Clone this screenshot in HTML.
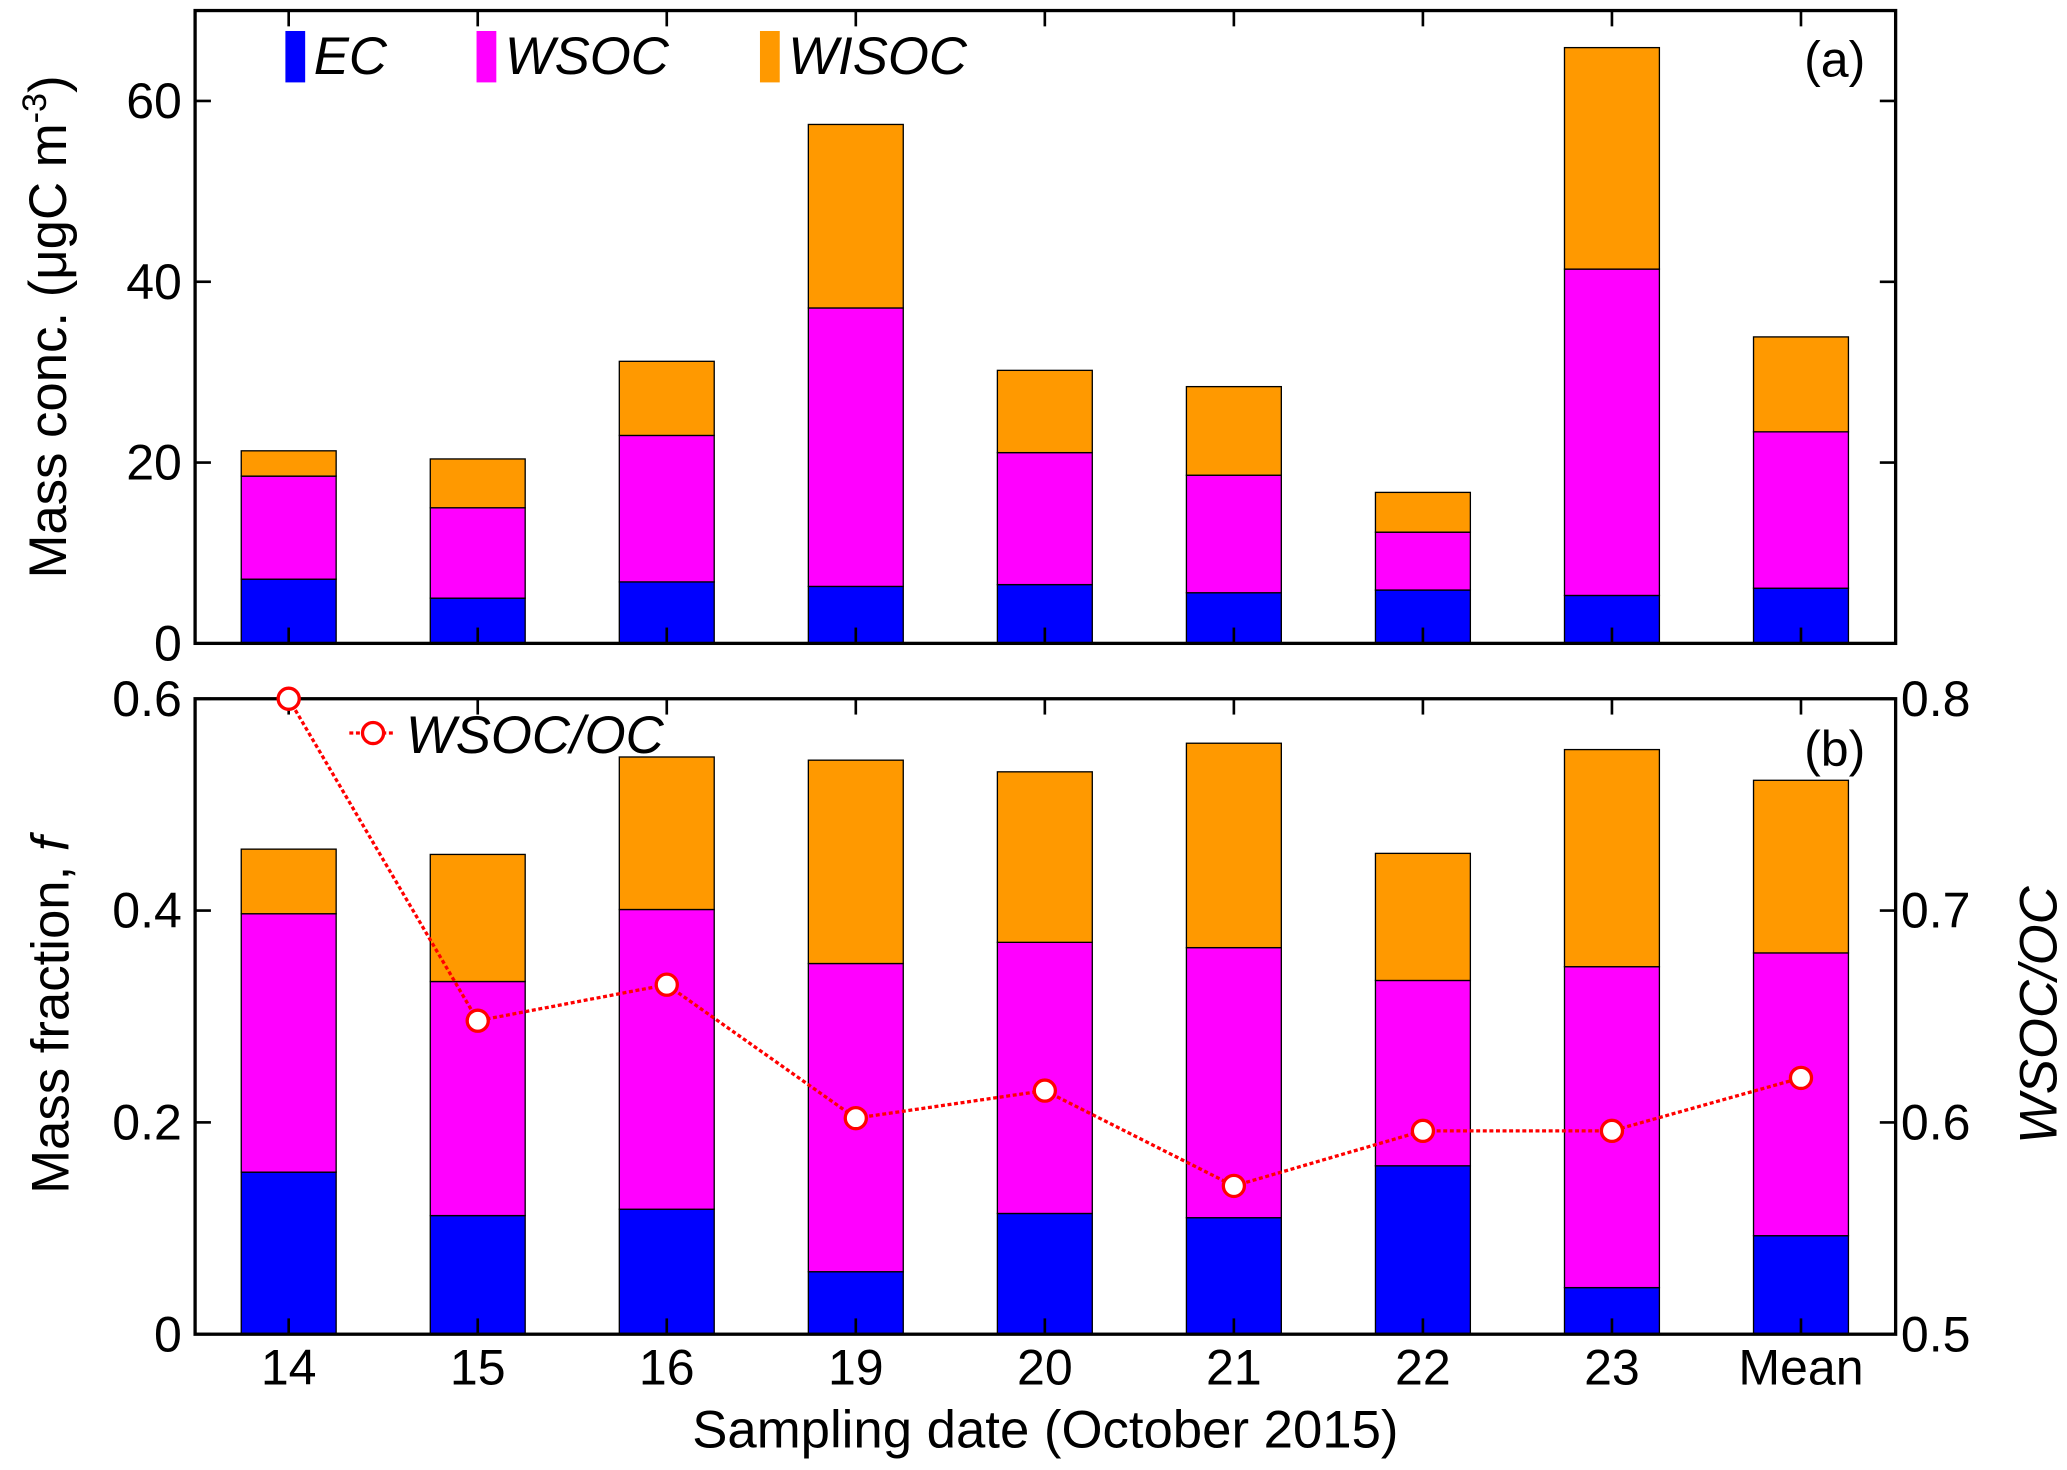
<!DOCTYPE html>
<html><head><meta charset="utf-8"><style>
html,body{margin:0;padding:0;background:#fff;}
svg{display:block;font-family:"Liberation Sans",Arial,sans-serif;}
</style></head><body>
<svg id="chart" width="2067" height="1470" viewBox="0 0 1568 1115" preserveAspectRatio="none" xmlns="http://www.w3.org/2000/svg"></svg>
<script>
const categories=["14","15","16","19","20","21","22","23","Mean"];
const ecConc=[7.1,5.0,6.8,6.3,6.5,5.6,5.9,5.3,6.1];
const wsocConc=[11.4,10.0,16.2,30.8,14.6,13.0,6.4,36.1,17.3];
const wisocConc=[2.8,5.4,8.2,20.3,9.1,9.8,4.4,24.5,10.5];
const ecFrac=[0.153,0.112,0.118,0.059,0.114,0.110,0.159,0.044,0.093];
const wsocFrac=[0.244,0.221,0.283,0.291,0.256,0.255,0.175,0.303,0.267];
const wisocFrac=[0.061,0.120,0.144,0.192,0.161,0.193,0.120,0.205,0.163];
const ratio=[0.800,0.648,0.665,0.602,0.615,0.570,0.596,0.596,0.621];
const topTicks=[0,20,40,60];
const botTicks=[0,0.2,0.4,0.6];
const rightTicks=[0.5,0.6,0.7,0.8];

const NS="http://www.w3.org/2000/svg";
const svg=document.getElementById('chart');
function mk(tag,attrs,parent){const e=document.createElementNS(NS,tag);for(const k in attrs)e.setAttribute(k,attrs[k]);(parent||svg).appendChild(e);return e;}
const L=148,R=1438,T1=8,B1=488,T2=530,B2=1012;
const xs=i=>219+i*143.4;
const y1=v=>B1-(v/70)*(B1-T1);
const y2=v=>B2-(v/0.6)*(B2-T2);
const yr=v=>B2-((v-0.5)/0.3)*(B2-T2);
const bw=72;
const colors=["#0000ff","#ff00ff","#ff9900"];
function stack(series,yf,name){
  categories.forEach((c,i)=>{
    let base=0;
    series.forEach((s,k)=>{
      const r=mk('rect',{x:xs(i)-bw/2,y:yf(base+s[i]),width:bw,height:yf(base)-yf(base+s[i]),fill:colors[k],stroke:'#000','stroke-width':1});
      
      
      base+=s[i];
    });
  });
}
stack([ecConc,wsocConc,wisocConc],y1,'bar-a');
stack([ecFrac,wsocFrac,wisocFrac],y2,'bar-b');
function txt(s,x,y,attrs,name){const t=mk('text',Object.assign({x:x,y:y,'font-size':38,fill:'#000'},attrs||{}));t.textContent=s;return t;}
[[T1,B1],[T2,B2]].forEach(([t,b],p)=>{
  const f=mk('rect',{x:L,y:t,width:R-L,height:b-t,fill:'none',stroke:'#000','stroke-width':2.5});
  
  
  categories.forEach((c,i)=>{mk('line',{x1:xs(i),x2:xs(i),y1:t,y2:t+12,stroke:'#000','stroke-width':2});mk('line',{x1:xs(i),x2:xs(i),y1:b,y2:b-12,stroke:'#000','stroke-width':2});});
});
topTicks.forEach(v=>{const y=y1(v);mk('line',{x1:L,x2:L+12,y1:y,y2:y,stroke:'#000','stroke-width':2});mk('line',{x1:R,x2:R-12,y1:y,y2:y,stroke:'#000','stroke-width':2});txt(String(v),L-10,y+13,{'text-anchor':'end'},'y-tick-a');});
botTicks.forEach(v=>{const y=y2(v);mk('line',{x1:L,x2:L+12,y1:y,y2:y,stroke:'#000','stroke-width':2});txt(v===0?'0':v.toFixed(1),L-10,y+13,{'text-anchor':'end'},'y-tick-b');});
rightTicks.forEach(v=>{const y=yr(v);mk('line',{x1:R,x2:R-12,y1:y,y2:y,stroke:'#000','stroke-width':2});txt(v.toFixed(1),R+4,y+13,{},'y-right-tick');});
categories.forEach((c,i)=>txt(c,xs(i),1050,{'text-anchor':'middle'},'x-tick-label'));
const pts=ratio.map((v,i)=>xs(i)+','+yr(v)).join(' ');
const pl=mk('polyline',{points:pts,fill:'none',stroke:'#ff0000','stroke-width':2.5,'stroke-dasharray':'3,2'});


ratio.forEach((v,i)=>{const c=mk('circle',{cx:xs(i),cy:yr(v),r:8,fill:'#fff',stroke:'#ff0000','stroke-width':2.5});});
[['EC',217],['WSOC',362],['WISOC',577]].forEach(([s,x],k)=>{
  const r=mk('rect',{x:x,y:24,width:14,height:38,fill:colors[k],stroke:colors[k]});
  
  
  txt(s,x+21,56,{'font-style':'italic','font-size':40},'legend-entry-'+s.toLowerCase());
});
mk('line',{x1:265,x2:300,y1:556,y2:556,stroke:'#ff0000','stroke-width':2.5,'stroke-dasharray':'3,2'});
const lc=mk('circle',{cx:283,cy:556,r:8,fill:'#fff',stroke:'#ff0000','stroke-width':2.5});


txt('WSOC/OC',308,571,{'font-style':'italic','font-size':40},'legend-entry-wsoc-oc');
txt('(a)',1415,58,{'text-anchor':'end'},'panel-label-a');
txt('(b)',1415,581,{'text-anchor':'end'},'panel-label-b');
const ta=txt('Mass conc. (μgC m',0,0,{'font-size':40,transform:'translate(50,248) rotate(-90)','text-anchor':'middle'},'y-axis-title-a');
const sup=document.createElementNS(NS,'tspan');sup.setAttribute('font-size',26);sup.setAttribute('dy',-15);sup.textContent='-3';ta.appendChild(sup);
const cl=document.createElementNS(NS,'tspan');cl.setAttribute('dy',15);cl.textContent=')';ta.appendChild(cl);
const tb=txt('Mass fraction, ',0,0,{'font-size':40,transform:'translate(52,770) rotate(-90)','text-anchor':'middle'},'y-axis-title-b');
const fi=document.createElementNS(NS,'tspan');fi.setAttribute('font-style','italic');fi.textContent='f';tb.appendChild(fi);
txt('WSOC/OC',0,0,{'font-size':40,'font-style':'italic',transform:'translate(1560,770) rotate(-90)','text-anchor':'middle'},'y-axis-title-right');
txt('Sampling date (October 2015)',793,1098,{'font-size':40,'text-anchor':'middle'},'x-axis-title');
</script>
</body></html>
